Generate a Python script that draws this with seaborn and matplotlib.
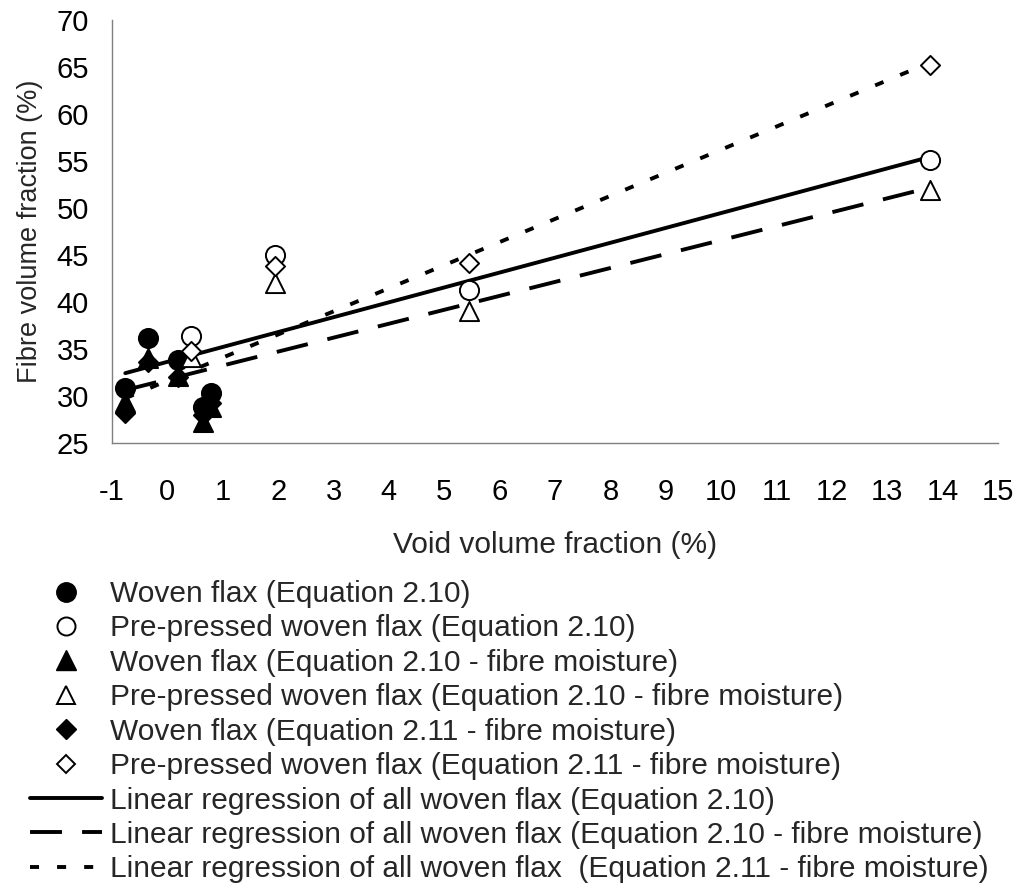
import numpy as np
import pandas as pd
import matplotlib
matplotlib.use("Agg")
import matplotlib.pyplot as plt
from matplotlib.lines import Line2D
import seaborn as sns

# Void volume fraction (%) of each laminate
woven_void = [-0.76, -0.35, 0.19, 0.65, 0.78]
prepressed_void = [0.43, 1.95, 5.45, 13.77]

# Fibre volume fraction (%) by equation
woven_eq210 = [30.8, 36.2, 33.8, 28.8, 30.3]
prepressed_eq210 = [36.4, 45.0, 41.3, 55.1]
woven_eq210_moist = [29.4, 34.0, 32.1, 27.2, 28.8]
prepressed_eq210_moist = [34.2, 42.0, 39.0, 51.9]
woven_eq211_moist = [28.2, 33.6, 32.0, 28.0, 29.3]
prepressed_eq211_moist = [34.8, 43.8, 44.1, 65.2]

series_labels = [
    "Woven flax (Equation 2.10)",
    "Pre-pressed woven flax (Equation 2.10)",
    "Woven flax (Equation 2.10 - fibre moisture)",
    "Pre-pressed woven flax (Equation 2.10 - fibre moisture)",
    "Woven flax (Equation 2.11 - fibre moisture)",
    "Pre-pressed woven flax (Equation 2.11 - fibre moisture)",
]
fit_labels = [
    "Linear regression of all woven flax (Equation 2.10)",
    "Linear regression of all woven flax (Equation 2.10 - fibre moisture)",
    "Linear regression of all woven flax  (Equation 2.11 - fibre moisture)",
]
x_ticks = list(range(-1, 16))
y_ticks = list(range(25, 71, 5))

sns.set_theme(style="white")
plt.rcParams["font.family"] = ["Liberation Sans", "DejaVu Sans"]
plt.rcParams["lines.scale_dashes"] = False
plt.rcParams["axes.unicode_minus"] = False

fig = plt.figure(figsize=(10.21, 8.84), dpi=100)
ax = fig.add_axes([112 / 1021, 1 - 443 / 884, (998 - 112) / 1021, (443 - 20) / 884])

FS = 21
LEG_FS = 21.5
solid = "-"
long_dash = (0, (23, 14.5))
short_dash = (0, (6.5, 13))

groups = [
    (woven_void, woven_eq210, "o", "black", 190),
    (prepressed_void, prepressed_eq210, "o", "white", 190),
    (woven_void, woven_eq210_moist, "^", "black", 190),
    (prepressed_void, prepressed_eq210_moist, "^", "white", 190),
    (woven_void, woven_eq211_moist, "D", "black", 95),
    (prepressed_void, prepressed_eq211_moist, "D", "white", 95),
]

# Regression lines over all woven flax for each equation
fits = [
    (woven_eq210, prepressed_eq210, solid),
    (woven_eq210_moist, prepressed_eq210_moist, long_dash),
    (woven_eq211_moist, prepressed_eq211_moist, short_dash),
]
for wv, pv, ls in fits:
    df = pd.DataFrame({"void": woven_void + prepressed_void, "fibre": wv + pv})
    sns.regplot(data=df, x="void", y="fibre", ax=ax, scatter=False, ci=None,
                truncate=True, color="black",
                line_kws={"linewidth": 2.8, "linestyle": ls, "zorder": 2})

for xv, yv, mk, fc, s in groups:
    sns.scatterplot(x=xv, y=yv, ax=ax, marker=mk, s=s, color=fc,
                    edgecolor="black", linewidth=1.4, zorder=3, legend=False)

ax.set_xlim(-1, 15)
ax.set_ylim(25, 70)
ax.set_xticks(x_ticks)
ax.set_yticks(y_ticks)
ax.tick_params(axis="both", labelsize=FS, length=7.2, width=1, color="#7f7f7f",
               direction="out", labelcolor="black")
ax.tick_params(axis="y", pad=9.4)
ax.tick_params(axis="x", pad=18)
for side in ["top", "right"]:
    ax.spines[side].set_visible(False)
for side in ["left", "bottom"]:
    ax.spines[side].set_color("#7f7f7f")
    ax.spines[side].set_linewidth(1.0)
ax.grid(False)
ax.set_xlabel("Void volume fraction (%)", fontsize=FS + 0.5, labelpad=18)
ax.set_ylabel("Fibre volume fraction (%)", fontsize=19.5, labelpad=10)

handles = [
    Line2D([], [], linestyle="none", marker="o", markersize=14, markerfacecolor="black", markeredgecolor="black"),
    Line2D([], [], linestyle="none", marker="o", markersize=13, markerfacecolor="white", markeredgecolor="black", markeredgewidth=1.4),
    Line2D([], [], linestyle="none", marker="^", markersize=14, markerfacecolor="black", markeredgecolor="black"),
    Line2D([], [], linestyle="none", marker="^", markersize=12.5, markerfacecolor="white", markeredgecolor="black", markeredgewidth=1.4),
    Line2D([], [], linestyle="none", marker="D", markersize=10, markerfacecolor="black", markeredgecolor="black"),
    Line2D([], [], linestyle="none", marker="D", markersize=9, markerfacecolor="white", markeredgecolor="black", markeredgewidth=1.4),
    Line2D([], [], color="black", linewidth=2.8, linestyle=solid),
    Line2D([], [], color="black", linewidth=2.8, linestyle=long_dash),
    Line2D([], [], color="black", linewidth=2.8, linestyle=short_dash),
]
fig.legend(handles, series_labels + fit_labels, loc="upper left",
           bbox_to_anchor=(30 / 1021, 1 - 580 / 884), frameon=False,
           fontsize=LEG_FS, handlelength=2.41, handletextpad=0.26,
           labelspacing=0.215, borderpad=0, borderaxespad=0)

fig.savefig("out.png", dpi=100)
